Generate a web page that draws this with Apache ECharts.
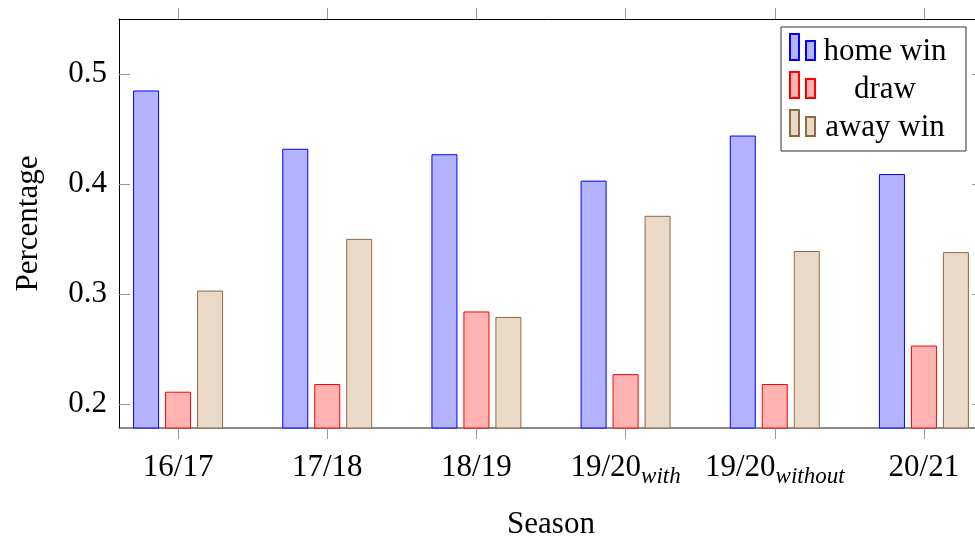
<!DOCTYPE html>
<html>
<head>
<meta charset="utf-8">
<script src="https://cdn.jsdelivr.net/npm/echarts@6/dist/echarts.min.js"></script>
<style>
html,body{margin:0;padding:0;background:#fff;}
#chart{width:975px;height:536px;}
</style>
</head>
<body>
<div id="chart"></div>
<script>
const categories = ['16/17', '17/18', '18/19', '19/20_with', '19/20_without', '20/21'];
const homeWin = [0.485, 0.432, 0.427, 0.403, 0.444, 0.409];
const draw = [0.211, 0.218, 0.284, 0.227, 0.218, 0.253];
const awayWin = [0.303, 0.350, 0.279, 0.371, 0.339, 0.338];
const yTicks = [0.2, 0.3, 0.4, 0.5];
const seriesNames = ['home win', 'draw', 'away win'];

const FONT = '"Liberation Serif", "DejaVu Serif", serif';
const catIdx = categories.map((c, i) => i);

function catLabel(v) {
  const i = Math.round(v);
  const c = categories[i];
  if (c === undefined) return '';
  const parts = c.split('_');
  if (parts.length > 1) return '{m|' + parts[0] + '}{s|' + parts[1] + '}';
  return '{m|' + c + '}';
}
function toPairs(arr) { return arr.map((v, i) => [i, v]); }

const chart = echarts.init(document.getElementById('chart'), null, {renderer: 'canvas'});

const barBase = {type: 'bar', barWidth: 26, barGap: '23%', xAxisIndex: 0, yAxisIndex: 0};

chart.setOption({
  animation: false,
  backgroundColor: '#fff',
  grid: {left: 119, top: 19, right: -8, bottom: 108, containLabel: false, outerBoundsMode: 'none'},
  legend: {
    orient: 'vertical',
    left: 781, top: 27,
    padding: [0, 16, 8, 8],
    itemGap: -2,
    itemWidth: 25, itemHeight: 26,
    icon: 'path://M0,0H9V26H0Z M16,7H25V26H16Z',
    borderColor: '#333', borderWidth: 1, backgroundColor: '#fff',
    data: seriesNames,
    formatter: name => '{a|' + name + '}',
    textStyle: {
      color: '#000', fontFamily: FONT, fontSize: 31,
      rich: {a: {width: 130, align: 'center', fontFamily: FONT, fontSize: 31, lineHeight: 31, padding: [9, 0, 0, 0], color: '#000'}}
    }
  },
  xAxis: [{
    type: 'value', min: -0.396, max: 5.396, position: 'bottom',
    name: 'Season', nameLocation: 'middle', nameGap: 81,
    nameTextStyle: {fontFamily: FONT, fontSize: 31, color: '#000'},
    axisLine: {show: true, onZero: false, lineStyle: {color: '#666', width: 1.5}},
    axisTick: {show: true, inside: false, length: 11, customValues: catIdx, lineStyle: {color: '#999', width: 1}},
    splitLine: {show: false},
    axisLabel: {
      show: true, margin: 24, customValues: catIdx, formatter: catLabel,
      color: '#000', fontFamily: FONT, fontSize: 31,
      rich: {
        m: {fontFamily: FONT, fontSize: 31, lineHeight: 36, verticalAlign: 'top', color: '#000'},
        s: {fontFamily: FONT, fontSize: 23, fontStyle: 'italic', lineHeight: 23, verticalAlign: 'bottom', color: '#000'}
      }
    }
  }, {
    type: 'value', min: -0.396, max: 5.396, position: 'top',
    axisLine: {show: true, onZero: false, lineStyle: {color: '#000', width: 1}},
    axisTick: {show: true, inside: false, length: 11, customValues: catIdx, lineStyle: {color: '#999', width: 1}},
    splitLine: {show: false},
    axisLabel: {show: false}
  }],
  yAxis: [{
    type: 'value', min: 0.178, max: 0.55, position: 'left',
    name: 'Percentage', nameLocation: 'middle', nameGap: 75,
    nameTextStyle: {fontFamily: FONT, fontSize: 31, color: '#000'},
    axisLine: {show: true, onZero: false, lineStyle: {color: '#000', width: 1}},
    axisTick: {show: true, inside: true, length: 11, customValues: yTicks, lineStyle: {color: '#999', width: 1}},
    splitLine: {show: false},
    axisLabel: {show: true, margin: 12, customValues: yTicks, formatter: v => v.toFixed(1), color: '#000', fontFamily: FONT, fontSize: 31}
  }, {
    type: 'value', min: 0.178, max: 0.55, position: 'right',
    axisLine: {show: true, onZero: false, lineStyle: {color: '#000', width: 1}},
    axisTick: {show: true, inside: true, length: 11, customValues: yTicks, lineStyle: {color: '#999', width: 1}},
    splitLine: {show: false},
    axisLabel: {show: false}
  }],
  series: [
    Object.assign({}, barBase, {name: seriesNames[0], data: toPairs(homeWin),
      itemStyle: {color: '#b3b3ff', borderColor: '#0000ff', borderWidth: 1}}),
    Object.assign({}, barBase, {name: seriesNames[1], data: toPairs(draw),
      itemStyle: {color: '#ffb3b3', borderColor: '#ff0000', borderWidth: 1}}),
    Object.assign({}, barBase, {name: seriesNames[2], data: toPairs(awayWin),
      itemStyle: {color: '#ead9c6', borderColor: '#8c6a48', borderWidth: 1}})
  ]
});
</script>
</body>
</html>
